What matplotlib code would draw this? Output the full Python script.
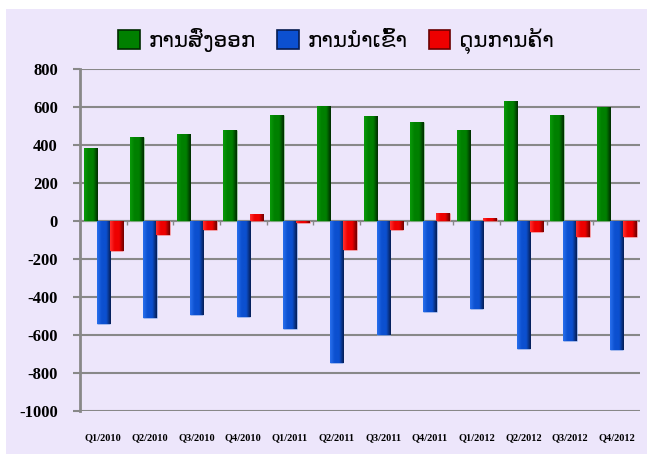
import numpy as np
import matplotlib.pyplot as plt
from matplotlib.patches import Rectangle
from matplotlib.colors import LinearSegmentedColormap

plt.rcParams["axes.unicode_minus"] = False
plt.rcParams["font.family"] = ["Liberation Serif", "DejaVu Sans"]
plt.rcParams["font.weight"] = "bold"

quarters = ["Q1/2010", "Q2/2010", "Q3/2010", "Q4/2010", "Q1/2011", "Q2/2011",
            "Q3/2011", "Q4/2011", "Q1/2012", "Q2/2012", "Q3/2012", "Q4/2012"]
exports = [386, 440, 456, 479, 558, 605, 554, 522, 481, 630, 560, 598]
imports = [-540, -510, -496, -505, -566, -749, -600, -477, -465, -675, -630, -679]
balance = [-158, -74, -45, 37, -10, -153, -47, 40, 14, -56, -82, -82]
names = ["ການສົ່ງອອກ", "ການນຳເຂົ້າ", "ດຸນການຄ້າ"]

bg = "#EDE6FB"
shades = [("#0a9a0a", "#008000", "#002a00"),
          ("#2a70ee", "#0c50d0", "#061c50"),
          ("#ff3030", "#ee0000", "#6a0000")]

fig = plt.figure(figsize=(6.47, 4.54), dpi=100)
fig.patch.set_facecolor("white")
fig.patches.append(Rectangle((6 / 647, 0), 1, 1 - 9 / 454, transform=fig.transFigure,
                             facecolor=bg, edgecolor="none", zorder=-10))
ax = fig.add_axes([80 / 647, 1 - 411 / 454, 560 / 647, 342 / 454])
ax.set_facecolor(bg)

x = np.arange(len(quarters))
w = 0.29
offs = [-0.28, 0.0, 0.28]

handles = []
for vals, off, (lt, mid, dk) in zip([exports, imports, balance], offs, shades):
    cmap = LinearSegmentedColormap.from_list("g", [lt, mid, mid, dk])
    grad = np.linspace(0, 1, 64).reshape(1, -1)
    bars = ax.bar(x + off, vals, w, color=mid, zorder=3, edgecolor="none")
    for b in bars:
        x0, y0, bw, bh = b.get_x(), b.get_y(), b.get_width(), b.get_height()
        im = ax.imshow(grad, cmap=cmap, aspect="auto", zorder=4,
                       extent=(x0, x0 + bw, y0, y0 + bh), interpolation="bicubic")
        im.set_clip_path(b)
        b.set_edgecolor((1, 1, 1, 0.35))
        b.set_linewidth(0.6)
    handles.append(Rectangle((0, 0), 1, 1, facecolor=mid, edgecolor=dk, linewidth=1.2))
ax.set_xlim(-0.5, len(quarters) - 0.5)
ax.set_ylim(-1000, 800)

ax.set_yticks(np.arange(-1000, 801, 200))
ax.set_yticklabels([str(v) for v in range(-1000, 801, 200)], fontsize=12)
ax.grid(axis="y", color="#888888", linewidth=1.5, zorder=1)
ax.axhline(0, color="#888888", linewidth=1.5, zorder=2)
for s in ["top", "right", "bottom"]:
    ax.spines[s].set_visible(False)
ax.spines["left"].set_color("#888888")
ax.spines["left"].set_linewidth(2)
ax.tick_params(axis="y", length=5, color="#888888", width=1.5, pad=11)
ax.set_xticks(x)
ax.set_xticklabels(quarters, fontsize=7.5)
ax.tick_params(axis="x", length=0, pad=16)
# small ticks on the zero line between categories
ax.vlines(x[1:] - 0.5, -20, 0, color="#888888", linewidth=1, zorder=2)

fig.legend(handles, names, loc="center", bbox_to_anchor=(336 / 647, 1 - 41 / 454),
           ncol=3, frameon=False,
           prop={"family": ["DejaVu Sans"], "size": 15.5, "weight": "normal"},
           handlelength=1.0, handleheight=1.0, handletextpad=0.4, columnspacing=1.0)

fig.savefig("out.png", dpi=100, facecolor=fig.get_facecolor())
